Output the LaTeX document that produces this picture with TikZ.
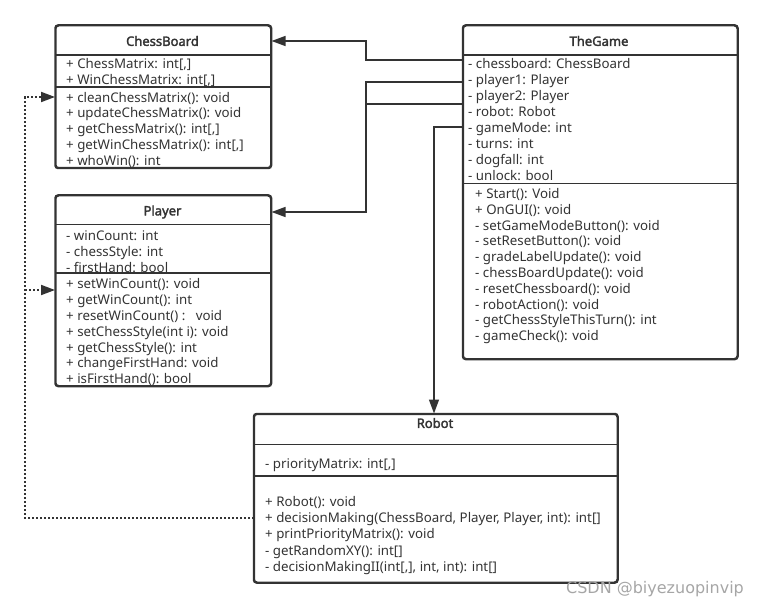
\documentclass[tikz,border=0pt]{standalone}
\usepackage{fontspec}
\setmainfont{Noto Sans}[AutoFakeBold=2.2]
\newfontfamily\wmfont{DejaVu Sans}
\usetikzlibrary{arrows.meta}
\definecolor{ln}{HTML}{333333}
\begin{document}
\begin{tikzpicture}[x=1pt,y=-1pt,
 cls/.style={draw=ln, fill=white, line width=1.5pt, rounded corners=3pt, anchor=north west, inner sep=0pt},
 hdr/.style={font=\fontsize{13}{15}\selectfont\bfseries, text=ln, inner sep=0pt},
 txt/.style={font=\fontsize{13.3}{15}\selectfont, text=ln, anchor=base west, inner sep=0pt, yshift=-1pt},
 sep/.style={draw=ln, line width=1.5pt},
 conn/.style={draw=ln, line width=1.5pt, -{Triangle[length=14pt,width=10pt]}},
 plain/.style={draw=ln, line width=1.5pt},
 dep/.style={draw=ln, line width=1.8pt, dash pattern=on 2pt off 2pt, -{Triangle[length=14pt,width=10pt]}}
]
\useasboundingbox (0,0) rectangle (761,607);
% boxes
\node[cls, minimum width=215pt, minimum height=142pt] (cb) at (55,25) {};
\node[cls, minimum width=215pt, minimum height=190pt] (pl) at (55,195) {};
\node[cls, minimum width=274pt, minimum height=333pt] (tg) at (462.5,25) {};
\node[cls, minimum width=363pt, minimum height=168pt] (rb) at (253.5,413.5) {};
% ChessBoard
\node[hdr] (cbh) at (162.5,41) {ChessBoard};
\node[txt] (cba1) at (66,68) {+ ChessMatrix: int[,]};
\node[txt] (cba2) at (66,83.8) {+ WinChessMatrix: int[,]};
\node[txt] (cbm1) at (66,101.2) {+ cleanChessMatrix(): void};
\node[txt] (cbm2) at (66,117) {+ updateChessMatrix(): void};
\node[txt] (cbm3) at (66,132.8) {+ getChessMatrix(): int[,]};
\node[txt] (cbm4) at (66,148.6) {+ getWinChessMatrix(): int[,]};
\node[txt] (cbm5) at (66,164.4) {+ whoWin(): int};
% Player
\node[hdr] (plh) at (162.5,212) {Player};
\node[txt] (pla1) at (66,239.5) {- winCount: int};
\node[txt] (pla2) at (66,255.5) {- chessStyle: int};
\node[txt] (pla3) at (66,271.5) {- firstHand: bool};
\node[txt] (plm1) at (66,287.8) {+ setWinCount(): void};
\node[txt] (plm2) at (66,303.6) {+ getWinCount(): int};
\node[txt] (plm3) at (66,319.4) {+ resetWinCount() :\ \ \ void};
\node[txt] (plm4) at (66,335.2) {+ setChessStyle(int i): void};
\node[txt] (plm5) at (66,351) {+ getChessStyle(): int};
\node[txt] (plm6) at (66,366.8) {+ changeFirstHand: void};
\node[txt] (plm7) at (66,382.6) {+ isFirstHand(): bool};
% TheGame
\node[hdr] (tgh) at (599,41) {TheGame};
\node[txt] (tga1) at (468,68) {- chessboard: ChessBoard};
\node[txt] (tga2) at (468,84) {- player1: Player};
\node[txt] (tga3) at (468,100) {- player2: Player};
\node[txt] (tga4) at (468,116) {- robot: Robot};
\node[txt] (tga5) at (468,132) {- gameMode: int};
\node[txt] (tga6) at (468,148) {- turns: int};
\node[txt] (tga7) at (468,164) {- dogfall: int};
\node[txt] (tga8) at (468,180) {- unlock: bool};
\node[txt] (tgm1) at (475,197.5) {+ Start(): Void};
\node[txt] (tgm2) at (475,213.3) {+ OnGUI(): void};
\node[txt] (tgm3) at (475,229.1) {- setGameModeButton(): void};
\node[txt] (tgm4) at (475,244.9) {- setResetButton(): void};
\node[txt] (tgm5) at (475,260.7) {- gradeLabelUpdate(): void};
\node[txt] (tgm6) at (475,276.5) {- chessBoardUpdate(): void};
\node[txt] (tgm7) at (475,292.3) {- resetChessboard(): void};
\node[txt] (tgm8) at (475,308.1) {- robotAction(): void};
\node[txt] (tgm9) at (475,323.9) {- getChessStyleThisTurn(): int};
\node[txt] (tgm10) at (475,339.7) {- gameCheck(): void};
% Robot
\node[hdr] (rbh) at (435,423) {Robot};
\node[txt] (rba1) at (265,467.8) {- priorityMatrix: int[,]};
\node[txt] (rbm1) at (265,505.2) {+ Robot(): void};
\node[txt] (rbm2) at (265,521.2) {+ decisionMaking(ChessBoard, Player, Player, int): int[]};
\node[txt] (rbm3) at (265,537.5) {+ printPriorityMatrix(): void};
\node[txt] (rbm4) at (265,554) {- getRandomXY(): int[]};
\node[txt] (rbm5) at (265,570) {- decisionMakingII(int[,], int, int): int[]};
% dividers
\draw[sep] (cb.west |- 0,55) -- (cb.east |- 0,55);
\draw[sep] (cb.west |- 0,87) -- (cb.east |- 0,87);
\draw[sep] (pl.west |- 0,224.5) -- (pl.east |- 0,224.5);
\draw[sep] (pl.west |- 0,273) -- (pl.east |- 0,273);
\draw[sep] (tg.west |- 0,55) -- (tg.east |- 0,55);
\draw[sep] (tg.west |- 0,183.5) -- (tg.east |- 0,183.5);
\draw[sep] (rb.west |- 0,444.5) -- (rb.east |- 0,444.5);
\draw[sep] (rb.west |- 0,476) -- (rb.east |- 0,476);
\draw[draw=ln, line width=1.5pt, rounded corners=3pt] (cb.north west) rectangle (cb.south east);
\draw[draw=ln, line width=1.5pt, rounded corners=3pt] (pl.north west) rectangle (pl.south east);
\draw[draw=ln, line width=1.5pt, rounded corners=3pt] (tg.north west) rectangle (tg.south east);
\draw[draw=ln, line width=1.5pt, rounded corners=3pt] (rb.north west) rectangle (rb.south east);
% connectors
\coordinate (j1) at (366,60);
\coordinate (j2) at (366,82);
\coordinate (j2b) at (366,104);
\coordinate (j3) at (434,127);
\draw[conn] (tg.west |- j1) -- (j1) |- (cb.east |- cbh);
\draw[conn] (tg.west |- j2) -- (j2) |- (pl.east |- plh);
\draw[plain] (tg.west |- j2b) -- (j2b);
\draw[conn] (tg.west |- j3) -- (j3) -- (j3 |- rb.north);
\coordinate (d0) at (25,518);
\coordinate (d1) at (25,97);
\coordinate (d2) at (25,290);
\draw[dep] (rb.west |- d0) -- (d0) -- (d1) -- (cb.west |- d1);
\draw[dep] (d2) -- (pl.west |- d2);
% watermark
\node[font=\wmfont\fontsize{16}{18}\selectfont, text=black!35, inner sep=0pt] (wm) at (655,589) {CSDN @biyezuopinvip};
\end{tikzpicture}
\end{document}
